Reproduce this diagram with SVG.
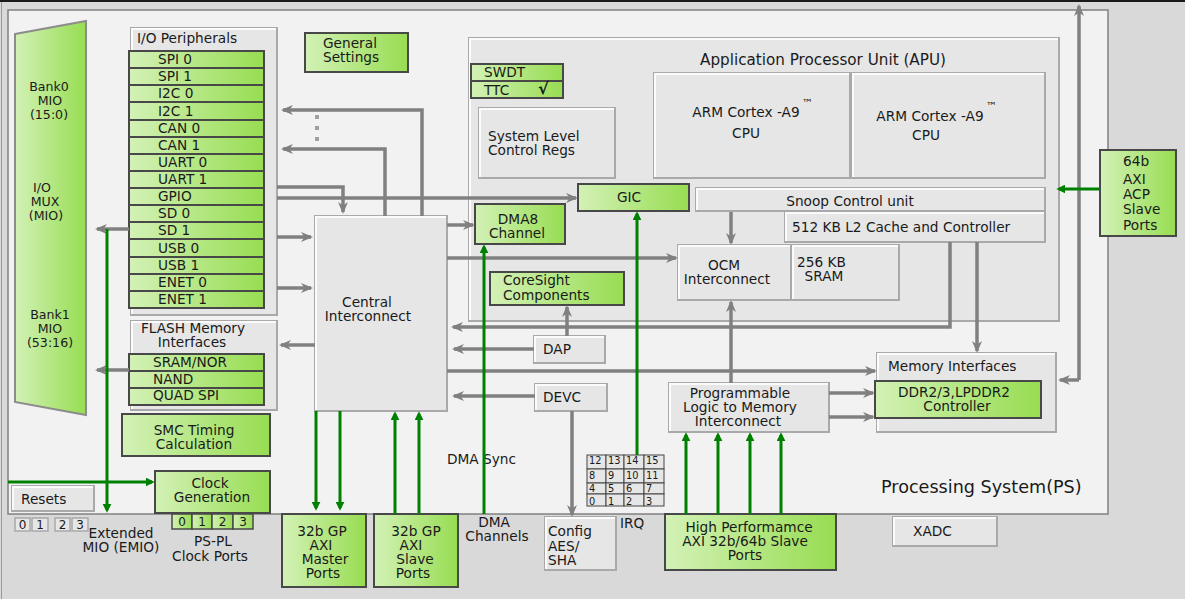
<svg xmlns="http://www.w3.org/2000/svg" width="1185" height="599" viewBox="0 0 1185 599">
<defs>
<linearGradient id="gg" x1="0" x2="1" y1="0" y2="0"><stop offset="0" stop-color="#d3f1b6"/><stop offset="1" stop-color="#97dd52"/></linearGradient>
<marker id="ag" viewBox="0 0 12 10" refX="10" refY="5" markerWidth="12" markerHeight="10" markerUnits="userSpaceOnUse" orient="auto"><path d="M0,0 L12,5 L0,10 L3.5,5 Z" fill="#808080"/></marker>
<marker id="an" viewBox="0 0 10 10" refX="7" refY="5" markerWidth="9" markerHeight="9" markerUnits="userSpaceOnUse" orient="auto"><path d="M0,0 L10,5 L0,10 Z" fill="#008000"/></marker>
</defs>
<style>
text{font-family:"DejaVu Sans","Liberation Sans",sans-serif;font-size:13.7px;fill:#1a1a1a}
.c{text-anchor:middle}
.mx{font-size:12.6px}
.bv{fill:#e6e6e6;stroke:#a9a9a9;stroke-width:2}
.hl{fill:none;stroke:#fbfbfb;stroke-width:2}
.gr{fill:url(#gg);stroke:#484848;stroke-width:2}
.gl{fill:none;stroke:#808080;stroke-width:3.5;marker-end:url(#ag)}
.gn{fill:none;stroke:#008000;stroke-width:3;marker-end:url(#an)}
.sm{font-size:9.8px}
.sb{fill:#e6e6e6;stroke:#444;stroke-width:1}
.dg{font-size:12px}
</style>
<rect x="0" y="0" width="1185" height="599" fill="#d9d9d9"/>
<rect x="0" y="0" width="1185" height="2" fill="#1a1a1a"/>
<line x1="1.5" y1="2" x2="1.5" y2="599" stroke="#9a9a9a" stroke-width="1"/>

<g id="ps">
<rect x="8" y="10" width="1100" height="504" fill="#f2f2f2" stroke="#808080" stroke-width="1.5"/>
<text x="881" y="493" style="font-size:17.6px">Processing System(PS)</text>
</g>

<g id="iomux">
<polygon points="15,34 86,21 86,415 15,402" fill="url(#gg)" stroke="#8c8c8c" stroke-width="2"/>
<text class="c mx" x="49" y="91">Bank0</text>
<text class="c mx" x="50" y="105">MIO</text>
<text class="c mx" x="49" y="119">(15:0)</text>
<text class="c mx" x="42" y="192">I/O</text>
<text class="c mx" x="45" y="206">MUX</text>
<text class="c mx" x="46" y="220">(MIO)</text>
<text class="c mx" x="50" y="319">Bank1</text>
<text class="c mx" x="50" y="333">MIO</text>
<text class="c mx" x="50" y="347">(53:16)</text>
</g>

<g id="io-peripherals">
<rect class="bv" x="131" y="28" width="146" height="287"/>
<path class="hl" d="M132,314 V29 H276"/>
<text x="137" y="43">I/O Peripherals</text>
<rect class="gr" x="129" y="51" width="135" height="17"/><text x="158" y="64">SPI 0</text>
<rect class="gr" x="129" y="68" width="135" height="17"/><text x="158" y="81">SPI 1</text>
<rect class="gr" x="129" y="85" width="135" height="17"/><text x="158" y="98">I2C 0</text>
<rect class="gr" x="129" y="102" width="135" height="18"/><text x="158" y="116">I2C 1</text>
<rect class="gr" x="129" y="120" width="135" height="17"/><text x="158" y="133">CAN 0</text>
<rect class="gr" x="129" y="137" width="135" height="17"/><text x="158" y="150">CAN 1</text>
<rect class="gr" x="129" y="154" width="135" height="17"/><text x="158" y="167">UART 0</text>
<rect class="gr" x="129" y="171" width="135" height="17"/><text x="158" y="184">UART 1</text>
<rect class="gr" x="129" y="188" width="135" height="17"/><text x="158" y="201">GPIO</text>
<rect class="gr" x="129" y="205" width="135" height="17"/><text x="158" y="218">SD 0</text>
<rect class="gr" x="129" y="222" width="135" height="17"/><text x="158" y="235">SD 1</text>
<rect class="gr" x="129" y="239" width="135" height="18"/><text x="158" y="253">USB 0</text>
<rect class="gr" x="129" y="257" width="135" height="17"/><text x="158" y="270">USB 1</text>
<rect class="gr" x="129" y="274" width="135" height="17"/><text x="158" y="287">ENET 0</text>
<rect class="gr" x="129" y="291" width="135" height="17"/><text x="158" y="304">ENET 1</text>
</g>

<g id="flash">
<rect class="bv" x="131" y="321" width="146" height="89"/>
<path class="hl" d="M132,409 V322 H276"/>
<text class="c" x="193" y="333">FLASH Memory</text>
<text class="c" x="192" y="347">Interfaces</text>
<rect class="gr" x="129" y="354" width="135" height="17"/><text x="153" y="367">SRAM/NOR</text>
<rect class="gr" x="129" y="371" width="135" height="17"/><text x="153" y="384">NAND</text>
<rect class="gr" x="129" y="388" width="135" height="17"/><text x="153" y="400">QUAD SPI</text>
</g>

<g id="smc">
<rect class="gr" x="122" y="414" width="148" height="42"/>
<text class="c" x="194" y="435">SMC Timing</text>
<text class="c" x="194" y="449">Calculation</text>
</g>

<g id="clockgen">
<rect class="gr" x="155" y="471" width="115" height="42"/>
<text class="c" x="210" y="488">Clock</text>
<text class="c" x="212" y="502">Generation</text>
</g>

<g id="resets">
<rect class="bv" x="12" y="486" width="82" height="25"/>
<path class="hl" d="M13,510 V487 H93"/>
<text x="21" y="504">Resets</text>
</g>

<g id="emio">
<rect class="bv" x="15" y="518" width="15" height="13" style="stroke-width:1.5"/><text class="c dg" x="22.5" y="529">0</text>
<rect class="bv" x="32" y="518" width="16" height="13" style="stroke-width:1.5"/><text class="c dg" x="40" y="529">1</text>
<rect class="bv" x="55" y="518" width="15" height="13" style="stroke-width:1.5"/><text class="c dg" x="62.5" y="529">2</text>
<rect class="bv" x="72" y="518" width="16" height="13" style="stroke-width:1.5"/><text class="c dg" x="80" y="529">3</text>
<text class="c" x="121" y="538">Extended</text>
<text class="c" x="121" y="552">MIO (EMIO)</text>
</g>

<g id="pspl-clock">
<rect class="gr" x="172" y="514" width="20" height="15" style="stroke-width:1.5"/><text class="c dg" x="182" y="526">0</text>
<rect class="gr" x="192" y="514" width="20" height="15" style="stroke-width:1.5"/><text class="c dg" x="202" y="526">1</text>
<rect class="gr" x="212" y="514" width="21" height="15" style="stroke-width:1.5"/><text class="c dg" x="222.5" y="526">2</text>
<rect class="gr" x="233" y="514" width="20" height="15" style="stroke-width:1.5"/><text class="c dg" x="243" y="526">3</text>
<text class="c" x="213" y="546">PS-PL</text>
<text class="c" x="210" y="561">Clock Ports</text>
</g>

<g id="general-settings">
<rect class="gr" x="305" y="33" width="103" height="39"/>
<text x="323" y="48">General</text>
<text x="323" y="62">Settings</text>
</g>

<g id="central-interconnect">
<rect class="bv" x="315" y="216" width="132" height="195"/>
<path class="hl" d="M316,410 V217 H446"/>
<text class="c" x="367" y="307">Central</text>
<text class="c" x="368" y="321">Interconnect</text>
</g>

<g id="apu">
<rect class="bv" x="469" y="38" width="590" height="283"/>
<path class="hl" d="M470,320 V39 H1058"/>
<text class="c" x="823" y="65" style="font-size:15.2px">Application Processor Unit (APU)</text>
</g>

<g id="swdt-ttc">
<rect class="gr" x="471" y="64" width="92" height="17"/>
<rect class="gr" x="471" y="81" width="92" height="17"/>
<text x="484" y="77">SWDT</text>
<text x="484" y="95">TTC</text>
<text x="538" y="94" style="font-size:16px;font-weight:bold">√</text>
</g>

<g id="sys-ctrl">
<rect class="bv" x="479" y="108" width="136" height="70"/>
<path class="hl" d="M480,177 V109 H614"/>
<text x="488" y="141">System Level</text>
<text x="488" y="155">Control Regs</text>
</g>

<g id="cpu0">
<rect class="bv" x="654" y="73" width="196" height="105"/>
<path class="hl" d="M655,177 V74 H849"/>
<text class="c" x="746" y="117">ARM Cortex -A9</text>
<text x="802" y="107" style="font-size:11px">™</text>
<text class="c" x="746" y="138">CPU</text>
</g>

<g id="cpu1">
<rect class="bv" x="852" y="73" width="193" height="105"/>
<path class="hl" d="M853,177 V74 H1044"/>
<text class="c" x="930" y="121">ARM Cortex -A9</text>
<text x="986" y="110" style="font-size:11px">™</text>
<text class="c" x="926" y="140">CPU</text>
</g>

<g id="gic">
<rect class="gr" x="578" y="184" width="111" height="27"/>
<text class="c" x="629" y="202">GIC</text>
</g>

<g id="snoop">
<rect class="bv" x="696" y="188" width="349" height="23"/>
<path class="hl" d="M697,210 V189 H1044"/>
<text class="c" x="850" y="206">Snoop Control unit</text>
</g>

<g id="l2cache">
<rect class="bv" x="785" y="212" width="260" height="30"/>
<path class="hl" d="M786,241 V213 H1044"/>
<text x="792" y="232">512 KB L2 Cache and Controller</text>
</g>

<g id="dma8">
<rect class="gr" x="475" y="204" width="90" height="40"/>
<text class="c" x="518" y="224">DMA8</text>
<text class="c" x="517" y="238">Channel</text>
</g>

<g id="ocm">
<rect class="bv" x="678" y="245" width="113" height="55"/>
<path class="hl" d="M679,299 V246 H790"/>
<text class="c" x="724" y="270">OCM</text>
<text class="c" x="727" y="284">Interconnect</text>
</g>

<g id="sram">
<rect class="bv" x="792" y="245" width="107" height="55"/>
<path class="hl" d="M793,299 V246 H898"/>
<text x="797" y="267">256 KB</text>
<text class="c" x="824" y="281">SRAM</text>
</g>

<g id="coresight">
<rect class="gr" x="490" y="272" width="134" height="33"/>
<text x="503" y="285">CoreSight</text>
<text x="503" y="300">Components</text>
</g>

<g id="dap">
<rect class="bv" x="534" y="336" width="71" height="27"/>
<path class="hl" d="M535,362 V337 H604"/>
<text x="543" y="354">DAP</text>
</g>

<g id="devc">
<rect class="bv" x="535" y="384" width="72" height="27"/>
<path class="hl" d="M536,410 V385 H606"/>
<text x="543" y="402">DEVC</text>
</g>

<g id="mem-interfaces">
<rect class="bv" x="877" y="353" width="179" height="79"/>
<path class="hl" d="M878,431 V354 H1055"/>
<text x="888" y="371">Memory Interfaces</text>
</g>

<g id="ddr">
<rect class="gr" x="875" y="381" width="166" height="37"/>
<text class="c" x="954" y="397">DDR2/3,LPDDR2</text>
<text class="c" x="957" y="411">Controller</text>
</g>

<g id="pl-mem">
<rect class="bv" x="669" y="383" width="160" height="49"/>
<path class="hl" d="M670,431 V384 H828"/>
<text class="c" x="740" y="398">Programmable</text>
<text class="c" x="740" y="412">Logic to Memory</text>
<text class="c" x="738" y="426">Interconnect</text>
</g>

<g id="acp">
<rect class="gr" x="1100" y="150" width="76" height="86"/>
<text x="1123" y="166">64b</text>
<text x="1123" y="184">AXI</text>
<text x="1123" y="199">ACP</text>
<text x="1123" y="214">Slave</text>
<text x="1123" y="230">Ports</text>
</g>

<g id="irq">
<rect class="sb" x="587" y="455" width="19" height="14"/><rect class="sb" x="606" y="455" width="18" height="14"/><rect class="sb" x="624" y="455" width="20" height="14"/><rect class="sb" x="644" y="455" width="20" height="14"/>
<rect class="sb" x="587" y="469" width="19" height="14"/><rect class="sb" x="606" y="469" width="18" height="14"/><rect class="sb" x="624" y="469" width="20" height="14"/><rect class="sb" x="644" y="469" width="20" height="14"/>
<rect class="sb" x="587" y="483" width="19" height="11"/><rect class="sb" x="606" y="483" width="18" height="11"/><rect class="sb" x="624" y="483" width="20" height="11"/><rect class="sb" x="644" y="483" width="20" height="11"/>
<rect class="sb" x="587" y="494" width="19" height="12"/><rect class="sb" x="606" y="494" width="18" height="12"/><rect class="sb" x="624" y="494" width="20" height="12"/><rect class="sb" x="644" y="494" width="20" height="12"/>
<text class="sm" x="589" y="464">12</text><text class="sm" x="608" y="464">13</text><text class="sm" x="626" y="464">14</text><text class="sm" x="646" y="464">15</text>
<text class="sm" x="589" y="479">8</text><text class="sm" x="608" y="479">9</text><text class="sm" x="626" y="479">10</text><text class="sm" x="646" y="479">11</text>
<text class="sm" x="589" y="492">4</text><text class="sm" x="608" y="492">5</text><text class="sm" x="626" y="492">6</text><text class="sm" x="646" y="492">7</text>
<text class="sm" x="589" y="505">0</text><text class="sm" x="608" y="505">1</text><text class="sm" x="626" y="505">2</text><text class="sm" x="646" y="505">3</text>
<text x="620" y="528">IRQ</text>
</g>

<g id="gp-master">
<rect class="gr" x="282" y="514" width="84" height="73"/>
<text class="c" x="322" y="536">32b GP</text>
<text class="c" x="321" y="550">AXI</text>
<text class="c" x="325" y="564">Master</text>
<text class="c" x="323" y="578">Ports</text>
</g>

<g id="gp-slave">
<rect class="gr" x="374" y="514" width="84" height="73"/>
<text class="c" x="416" y="536">32b GP</text>
<text class="c" x="411" y="550">AXI</text>
<text class="c" x="415" y="564">Slave</text>
<text class="c" x="413" y="578">Ports</text>
</g>

<g id="dma-channels">
<text class="c" x="494" y="527">DMA</text>
<text class="c" x="497" y="541">Channels</text>
</g>

<g id="config">
<rect class="bv" x="545" y="517" width="71" height="53"/>
<path class="hl" d="M546,569 V518 H615"/>
<text x="548" y="536">Config</text>
<text x="548" y="551">AES/</text>
<text x="548" y="565">SHA</text>
</g>

<g id="hp">
<rect class="gr" x="665" y="514" width="171" height="56"/>
<text class="c" x="749" y="532">High Performamce</text>
<text class="c" x="745" y="546">AXI 32b/64b Slave</text>
<text class="c" x="745" y="560">Ports</text>
</g>

<g id="xadc">
<rect class="bv" x="893" y="517" width="104" height="29"/>
<path class="hl" d="M894,545 V518 H996"/>
<text x="913" y="536">XADC</text>
</g>

<g id="labels">
<text x="447" y="464">DMA Sync</text>
<rect x="315" y="115" width="4" height="4" fill="#a0a0a0"/>
<rect x="315" y="126" width="4" height="4" fill="#a0a0a0"/>
<rect x="315" y="137" width="4" height="4" fill="#a0a0a0"/>
</g>

<g id="connectors">
<path class="gl" d="M422,216 V110 H283"/>
<path class="gl" d="M385,216 V149 H283"/>
<path class="gl" d="M277,187 H343 V212"/>
<path class="gl" d="M277,198 H576"/>
<path class="gl" d="M277,237 H311"/>
<path class="gl" d="M277,288 H311"/>
<path class="gl" d="M315,345 H281"/>
<path class="gl" d="M447,225 H473"/>
<path class="gl" d="M447,258 H676"/>
<path class="gl" d="M950,242 V327 H453"/>
<path class="gl" d="M977,242 V351"/>
<path class="gl" d="M1079,380 V6"/>
<path class="gl" d="M1079,380 H1060"/>
<path class="gl" d="M731,212 V243"/>
<path class="gl" d="M731,383 V302"/>
<path class="gl" d="M447,371 H875"/>
<path class="gl" d="M829,393 H873"/>
<path class="gl" d="M829,417 H873"/>
<path class="gl" d="M534,349 H454"/>
<path class="gl" d="M567,336 V307"/>
<path class="gl" d="M535,396 H454"/>
<path class="gl" d="M572,411 V515"/>
<path class="gl" d="M129,229 H97"/>
<path class="gl" d="M129,370 H97"/>
<path class="gn" d="M107,229 V510"/>
<path class="gn" d="M8,482 H152"/>
<path class="gn" d="M637,455 V214"/>
<path class="gn" d="M484,514 V247"/>
<path class="gn" d="M316,411 V508"/>
<path class="gn" d="M340,411 V508"/>
<path class="gn" d="M395,514 V414"/>
<path class="gn" d="M419,514 V414"/>
<path class="gn" d="M686,514 V435"/>
<path class="gn" d="M718,514 V435"/>
<path class="gn" d="M750,514 V435"/>
<path class="gn" d="M781,514 V435"/>
<path class="gn" d="M1100,189 H1059"/>
</g>
</svg>
